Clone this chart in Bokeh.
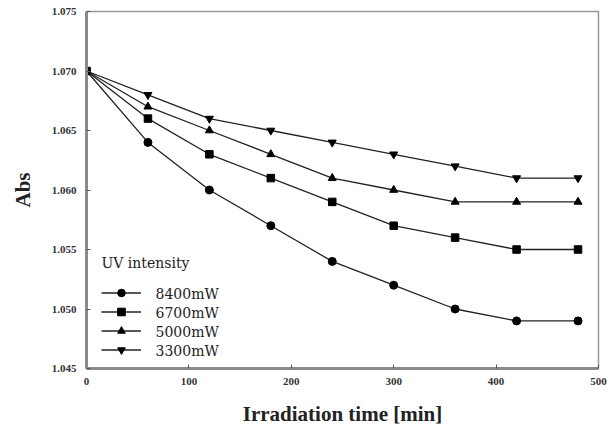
from bokeh.plotting import figure
from bokeh.models import Legend, LegendItem, FixedTicker, PrintfTickFormatter, Range1d
from bokeh.core.properties import value
from bokeh.embed import file_html
from bokeh.resources import INLINE

# Absorbance vs. irradiation time at four UV intensities
time_min = [0, 60, 120, 180, 240, 300, 360, 420, 480]
abs_8400 = [1.070, 1.064, 1.060, 1.057, 1.054, 1.052, 1.050, 1.049, 1.049]
abs_6700 = [1.070, 1.066, 1.063, 1.061, 1.059, 1.057, 1.056, 1.055, 1.055]
abs_5000 = [1.070, 1.067, 1.065, 1.063, 1.061, 1.060, 1.059, 1.059, 1.059]
abs_3300 = [1.070, 1.068, 1.066, 1.065, 1.064, 1.063, 1.062, 1.061, 1.061]
series_labels = ["8400mW", "6700mW", "5000mW", "3300mW"]
legend_title = "UV intensity"
x_ticks = [0, 100, 200, 300, 400, 500]
y_ticks = [1.045, 1.050, 1.055, 1.060, 1.065, 1.070, 1.075]

FONT = "Liberation Serif"
LEGEND_FONT = "DejaVu Serif"
X0, X1, Y0, Y1 = 0, 500, 1.045, 1.075
FRAME_W, FRAME_H = 612 - 86 - 14, 439 - 11 - 71

p = figure(width=612, height=439, output_backend="svg", toolbar_location=None,
           x_range=Range1d(X0, X1), y_range=Range1d(Y0, Y1),
           min_border_left=86, min_border_right=14, min_border_top=11, min_border_bottom=71)
p.background_fill_color = "white"
p.border_fill_color = "white"
p.grid.visible = False
p.outline_line_color = "#9a9a9a"
p.outline_line_width = 1.5

for ax in (p.xaxis[0], p.yaxis[0]):
    ax.axis_line_color = "#8a8a8a"
    ax.axis_line_width = 3
    ax.major_tick_in = 4
    ax.major_tick_out = 0
    ax.major_tick_line_color = "#555555"
    ax.minor_tick_line_color = None
    ax.major_label_text_font = FONT
    ax.major_label_text_font_style = "bold"
    ax.major_label_text_font_size = "11px"
    ax.major_label_text_color = "#333333"
    ax.axis_label_text_font = FONT
    ax.axis_label_text_font_style = "bold"
    ax.axis_label_text_font_size = "21px"
    ax.axis_label_text_color = "#222222"

p.xaxis.ticker = FixedTicker(ticks=x_ticks)
p.yaxis.ticker = FixedTicker(ticks=y_ticks)
p.yaxis.formatter = PrintfTickFormatter(format="%.3f")
p.xaxis.major_label_standoff = 9
p.yaxis.major_label_standoff = 10
p.xaxis.axis_label = "Irradiation time [min]"
p.yaxis.axis_label = "Abs"
p.xaxis.axis_label_standoff = 14
p.yaxis.axis_label_standoff = 14

markers = ["circle", "square", "triangle", "inverted_triangle"]
sizes = [8, 7.5, 8, 8]
items = []
for ys, marker, sz, label in zip([abs_8400, abs_6700, abs_5000, abs_3300], markers, sizes, series_labels):
    ln = p.line(time_min, ys, line_color="#222222", line_width=1.3)
    mk = p.scatter(time_min, ys, marker=marker, size=sz, fill_color="black", line_color="black")
    items.append(LegendItem(label=label, renderers=[ln, mk]))

# legend keys only; the legend text is drawn below as text glyphs in a serif face
legend = Legend(items=items, location=(15, 9), title=" ",
                glyph_width=40, glyph_height=19, label_height=19, spacing=0,
                label_standoff=14, padding=4, margin=0, title_standoff=11,
                label_text_font_size="13px", title_text_font_size="13px",
                label_text_alpha=0, title_text_alpha=0,
                border_line_color=None, background_fill_alpha=0)
p.add_layout(legend)


def fx(px):
    """frame pixel offset from the left edge -> data x"""
    return X0 + (X1 - X0) * px / FRAME_W


def fy(px):
    """frame pixel offset from the bottom edge -> data y"""
    return Y0 + (Y1 - Y0) * px / FRAME_H


p.text(x=[fx(15)], y=[fy(106)], text=[legend_title],
       text_font=value(LEGEND_FONT), text_font_size="14px", text_color="#222222",
       text_baseline="middle", text_align="left")
p.text(x=[fx(69)] * len(series_labels), y=[fy(75 - 19 * i) for i in range(len(series_labels))],
       text=series_labels, text_font=value(LEGEND_FONT),
       text_font_size="14px", text_color="#222222",
       text_baseline="middle", text_align="left")

open("out.html", "w").write(file_html(p, INLINE))
